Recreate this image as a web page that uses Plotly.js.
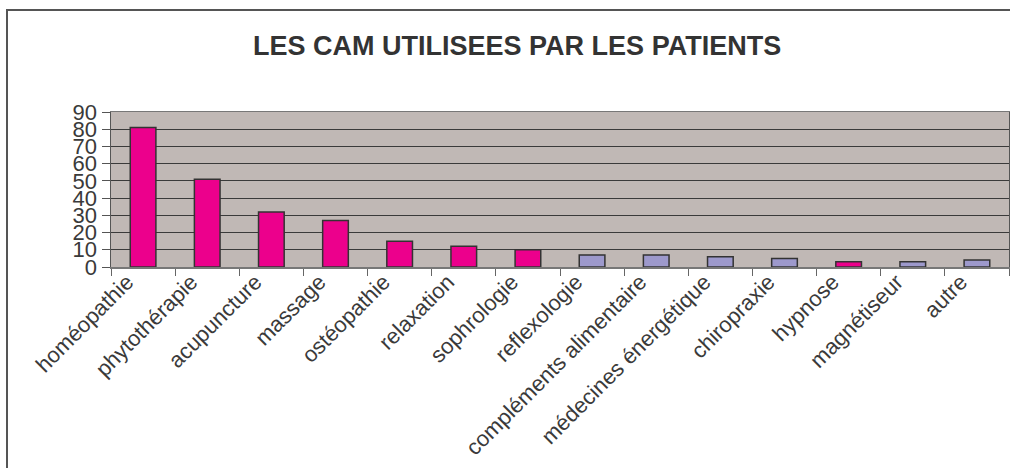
<!DOCTYPE html>
<html>
<head>
<meta charset="utf-8">
<script src="https://cdn.plot.ly/plotly-3.0.1.min.js"></script>
<style>
html,body{margin:0;padding:0;background:#fff;}
#chart{width:1010px;height:468px;}
</style>
</head>
<body>
<div id="chart"></div>
<script>
const categories = ["homéopathie","phytothérapie","acupuncture","massage","ostéopathie","relaxation","sophrologie","reflexologie","compléments alimentaire","médecines énergétique","chiropraxie","hypnose","magnétiseur","autre"];
const patients = [81, 51, 32, 27, 15, 12, 10, 7, 7, 6, 5, 3, 3, 4];
const group = ["A","A","A","A","A","A","A","B","B","B","B","A","B","B"];
const yTicks = [0,10,20,30,40,50,60,70,80,90];

const groupColor = {A: "#EC008C", B: "#9D99CC"};

const W = 1010, H = 468;
const m = {l: 111, r: 1, t: 112, b: 201};
const pw = W - m.l - m.r, ph = H - m.t - m.b;
const px = v => (v - m.l) / pw;
const py = v => (H - m.b - v) / ph;

const trace = {
  type: "bar",
  x: categories,
  y: patients,
  marker: {color: group.map(g => groupColor[g]), line: {color: "#333333", width: 1.5}},
  hoverinfo: "x+y"
};

const layout = {
  width: W, height: H,
  margin: m,
  paper_bgcolor: "#ffffff",
  plot_bgcolor: "#C0B8B5",
  showlegend: false,
  bargap: 0.6,
  title: {
    text: "<b>LES CAM UTILISEES PAR LES PATIENTS</b>",
    font: {family: "Liberation Sans, Arial, sans-serif", size: 27, color: "#333333"},
    xref: "container", x: 0.512, xanchor: "center",
    yref: "container", y: 1 - 46/H, yanchor: "middle"
  },
  xaxis: {
    type: "category",
    tickangle: -45,
    tickson: "boundaries",
    ticks: "outside", ticklen: 7, tickcolor: "#666666", tickwidth: 1,
    ticklabelshift: -16,
    ticklabelstandoff: -8,
    showgrid: false,
    showline: true, linecolor: "#777777", linewidth: 1.5, mirror: true,
    tickfont: {family: "Liberation Sans, Arial, sans-serif", size: 22, color: "#3a3a3a"},
    fixedrange: true
  },
  yaxis: {
    range: [0, 90],
    tickvals: yTicks,
    ticktext: yTicks.map(String),
    ticks: "outside", ticklen: 8, tickcolor: "#555555", tickwidth: 1,
    showgrid: true, gridcolor: "#3a3a3a", gridwidth: 1,
    showline: true, linecolor: "#555555", linewidth: 1.5, mirror: true,
    zeroline: false,
    tickfont: {family: "Liberation Sans, Arial, sans-serif", size: 22, color: "#3a3a3a"},
    fixedrange: true
  },
  shapes: [{
    type: "rect", xref: "paper", yref: "paper",
    x0: px(7), x1: px(1030), y0: py(490), y1: py(10),
    line: {color: "#555555", width: 2}, fillcolor: "rgba(0,0,0,0)", layer: "below"
  }]
};

Plotly.newPlot("chart", [trace], layout, {displayModeBar: false, staticPlot: true});
</script>
</body>
</html>
